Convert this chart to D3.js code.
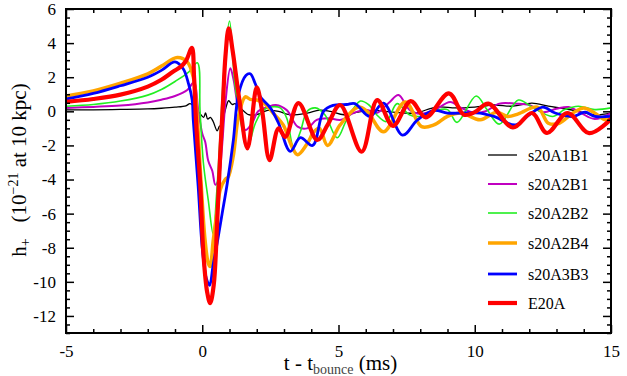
<!DOCTYPE html>
<html>
<head>
<meta charset="utf-8">
<script src="https://cdn.jsdelivr.net/npm/d3@7"></script>
<style>
  body { margin: 0; background: #fff; }
  svg text { font-family: "Liberation Serif", "DejaVu Serif", serif; }
</style>
</head>
<body>
<div id="chart"></div>
<script>
// waveforms, [t - t_bounce (ms), h+ (1e-21 at 10 kpc)]
var s20A1B1 = [[-5,0.08],[-4,0.09],[-3,0.11],[-2,0.14],[-1.5,0.18],[-1,0.24],[-0.6,0.32],[-0.45,0.45],[-0.3,0.3],[-0.1,-0.1],[0.05,-0.35],[0.12,-0.1],[0.2,-0.45],[0.3,-0.35],[0.4,-0.6],[0.55,-1.15],[0.62,-0.9],[0.7,-0.8],[0.85,0.1],[0.97,0.62],[1.1,0.4],[1.2,0.45],[1.4,0.2],[1.7,-0.2],[2.0,-0.2],[2.4,0.05],[2.8,0.0],[3.2,-0.2],[3.85,-0.1],[4.3,0.07],[4.7,0.0],[5.2,-0.2],[5.7,-0.05],[6.3,0.05],[7.0,-0.05],[7.8,-0.1],[8.6,0.25],[9.3,0.2],[10.0,0.25],[10.7,0.37],[11.4,0.3],[12.1,0.48],[12.7,0.3],[13.3,0.15],[13.8,0.0],[14.35,-0.2],[15,-0.1]];
var s20A2B1 = [[-5,0.2],[-4,0.26],[-3,0.34],[-2,0.52],[-1.5,0.68],[-1,0.9],[-0.55,1.25],[-0.3,1.7],[-0.15,0.1],[0.0,-1.3],[0.11,-1.8],[0.22,-2.9],[0.37,-3.5],[0.48,-4.3],[0.6,-4.0],[0.72,-2.2],[0.85,0.5],[1.03,2.52],[1.15,1.85],[1.33,0.07],[1.58,-1.1],[1.83,-0.7],[2.05,0.0],[2.4,0.25],[2.7,0.37],[3.1,0.07],[3.5,-0.9],[3.85,-1.0],[4.2,-0.5],[4.6,-0.4],[5.1,-0.5],[5.55,-0.1],[6.05,0.07],[6.4,-0.1],[6.85,0.5],[7.2,0.95],[7.6,0.1],[8.0,-0.15],[8.5,0.05],[9.1,0.55],[9.5,0.2],[10.0,-0.1],[10.4,0.0],[10.9,0.45],[11.5,0.45],[12.0,0.37],[12.5,-0.05],[13.0,0.15],[13.45,0.25],[13.9,-0.1],[14.4,-0.45],[15,-0.1]];
var s20A2B2 = [[-5,0.3],[-4,0.4],[-3,0.6],[-2,0.95],[-1.5,1.28],[-1,1.75],[-0.5,2.3],[-0.18,2.85],[-0.08,0],[0.04,-3.0],[0.22,-5.2],[0.4,-7.2],[0.52,-5],[0.66,-1.3],[0.8,2.5],[1.0,5.3],[1.2,1.6],[1.5,-1.3],[1.65,-2.15],[1.95,-0.7],[2.2,0.0],[2.5,0.25],[2.86,0.2],[3.1,-0.4],[3.35,-2.1],[3.6,-1.2],[3.85,0.0],[4.15,0.2],[4.5,-0.2],[4.95,-1.55],[5.3,-0.5],[5.8,0.6],[6.1,0.4],[6.4,-0.2],[6.75,-0.6],[7.15,0.45],[7.6,-0.2],[8.0,-0.3],[8.5,0.0],[9.0,0.1],[9.35,-0.65],[10.05,0.9],[10.45,0.1],[10.9,-0.75],[11.6,0.66],[12.1,0.25],[12.85,-0.3],[13.3,0.1],[13.8,0.3],[14.4,0.1],[15,0.2]];
var s20A2B4 = [[-5,0.9],[-4,1.2],[-3,1.65],[-2,2.2],[-1.5,2.65],[-0.92,3.15],[-0.55,2.9],[-0.33,2.0],[-0.2,0],[-0.05,-4],[0.1,-7.5],[0.22,-8.9],[0.29,-9.1],[0.4,-7.6],[0.55,-5.8],[0.66,-4.6],[0.84,-4.0],[0.95,-3.85],[1.14,-2.6],[1.33,-0.3],[1.58,0.85],[1.76,0.7],[2.0,0.66],[2.25,0.5],[2.6,-0.1],[2.97,-0.8],[3.3,-2.1],[3.5,-2.55],[3.85,-1.9],[4.1,-1.2],[4.3,-1.0],[4.6,-2.0],[5.06,-0.8],[5.73,0.25],[6.05,0.0],[6.65,-1.2],[7.45,0.55],[8.05,-0.9],[8.5,-0.8],[9.0,-0.3],[9.5,-0.1],[10.2,-0.5],[10.8,-0.05],[11.2,-0.3],[11.6,-0.15],[12.3,0.25],[12.7,-0.7],[13.1,-0.7],[13.6,-0.1],[14.0,0.2],[14.4,-0.1],[14.8,-0.5],[15,-0.4]];
var s20A3B3 = [[-5,0.72],[-4,1.05],[-3,1.5],[-2,2.0],[-1.5,2.4],[-1.0,2.9],[-0.7,2.5],[-0.5,1.6],[-0.37,0.67],[-0.33,-0.5],[-0.15,-4.4],[0.0,-8.0],[0.15,-9.8],[0.27,-10.2],[0.4,-9.0],[0.55,-7.7],[0.73,-6.0],[0.92,-4.2],[1.14,-1.7],[1.33,1.0],[1.6,2.1],[1.76,2.2],[1.95,1.6],[2.13,0.85],[2.5,0.2],[2.8,-0.7],[3.23,-2.35],[3.6,-1.55],[4.05,-2.0],[4.45,0.0],[4.8,0.35],[5.3,0.4],[5.6,0.45],[6.15,-0.3],[6.65,0.48],[7.35,-1.4],[7.9,-0.5],[8.5,0.05],[9.0,-0.1],[9.7,-0.1],[10.2,-0.1],[10.7,-0.3],[11.5,-0.8],[12.0,-0.2],[12.5,0.25],[12.95,-0.1],[13.6,-0.3],[14.05,-0.05],[14.4,-0.3],[15,-0.3]];
var e20A = [[-5,0.55],[-4,0.72],[-3,0.98],[-2,1.45],[-1.5,1.85],[-1.05,2.35],[-0.8,2.6],[-0.6,2.95],[-0.38,3.72],[-0.3,2.0],[-0.22,-0.8],[-0.07,-4.4],[0.04,-8.3],[0.18,-10.6],[0.29,-11.25],[0.42,-10.2],[0.55,-6.4],[0.66,-2.5],[0.76,0.5],[0.85,3.2],[0.97,4.87],[1.12,3.5],[1.35,0.8],[1.66,-2.17],[2.0,1.41],[2.2,0],[2.47,-2.86],[2.8,-1.0],[3.05,-1.5],[3.53,0.48],[4.22,-1.68],[4.6,-0.8],[5.06,0.37],[5.85,-2.37],[6.42,0.66],[7.0,-0.85],[7.65,0.6],[8.2,-0.35],[9.05,1.05],[9.6,-0.2],[10.0,-0.05],[10.5,0.45],[11.4,-0.95],[12.1,-0.1],[12.65,-1.27],[13.4,-0.1],[14.2,-1.28],[15,-0.45]];

var seriesNames = ["s20A1B1", "s20A2B1", "s20A2B2", "s20A2B4", "s20A3B3", "E20A"];
var seriesData = [s20A1B1, s20A2B1, s20A2B2, s20A2B4, s20A3B3, e20A];
var seriesColors = ["#000000", "#c000c0", "#22ee22", "#ffa500", "#0000ff", "#ff0000"];
var seriesWidths = [1.3, 2, 1.6, 3.5, 2.8, 4.2];

var xMajor = [-5, 0, 5, 10, 15];
var yMajor = [-12, -10, -8, -6, -4, -2, 0, 2, 4, 6];

(function() {
    var margin = { top: 9, left: 66, right: 16, bottom: 43 },
        width = 627 - margin.left - margin.right,
        height = 376 - margin.top - margin.bottom;

    var svg = d3.select("#chart")
        .append("svg")
        .attr("width", 627)
        .attr("height", 376)
        .append("g")
        .attr("transform", "translate(" + margin.left + "," + margin.top + ")");

    var x = d3.scaleLinear().domain([-5, 15]).range([0, width]);
    var y = d3.scaleLinear().domain([-13, 6]).range([height, 0]);

    var xMinor = d3.range(-5, 15.01, 1).filter(function(d) { return xMajor.indexOf(d) < 0; });
    var yMinor = d3.range(-13, 6.01, 0.5).filter(function(d) { return yMajor.indexOf(d) < 0; });

    svg.append("clipPath").attr("id", "clip")
        .append("rect").attr("width", width).attr("height", height);

    var line = d3.line()
        .x(function(d) { return x(d[0]); })
        .y(function(d) { return y(d[1]); })
        .curve(d3.curveCatmullRom.alpha(0.5));

    svg.append("g")
        .attr("clip-path", "url(#clip)")
        .selectAll(".wave")
        .data(seriesData)
        .enter().append("path")
        .attr("class", "wave")
        .attr("d", line)
        .attr("fill", "none")
        .attr("stroke", function(d, i) { return seriesColors[i]; })
        .attr("stroke-width", function(d, i) { return seriesWidths[i]; })
        .attr("stroke-linejoin", "round");

    // ticks point inward on all four sides
    function addAxis(axis, values, size, transform, labels) {
        var g = svg.append("g")
            .attr("transform", transform)
            .call(axis.tickValues(values).tickSize(-size).tickPadding(labels ? 12 : 0)
                .tickFormat(labels ? function(d) { return d < 0 ? "-" + Math.abs(d) : d; } : ""));
        g.select(".domain").remove();
        g.attr("font-family", null);
        g.selectAll("line").attr("stroke", "#000").attr("stroke-width", 1.5);
        g.selectAll("text").attr("font-size", 17).attr("fill", "#000");
        return g;
    }

    addAxis(d3.axisBottom(x), xMajor, 8, "translate(0," + height + ")", true);
    addAxis(d3.axisBottom(x), xMinor, 4, "translate(0," + height + ")", false);
    addAxis(d3.axisTop(x), xMajor, 8, "translate(0,0)", false);
    addAxis(d3.axisTop(x), xMinor, 4, "translate(0,0)", false);
    var yAxisG = addAxis(d3.axisLeft(y), yMajor, 8, "translate(0,0)", true);
    yAxisG.selectAll("text").attr("x", -10);
    addAxis(d3.axisLeft(y), yMinor, 4, "translate(0,0)", false);
    addAxis(d3.axisRight(y), yMajor, 8, "translate(" + width + ",0)", false);
    addAxis(d3.axisRight(y), yMinor, 4, "translate(" + width + ",0)", false);

    svg.append("rect")
        .attr("width", width)
        .attr("height", height)
        .attr("fill", "none")
        .attr("stroke", "#000")
        .attr("stroke-width", 2);

    // x axis title
    var xt = svg.append("text")
        .attr("x", width / 2 + 2)
        .attr("y", height + 37)
        .attr("text-anchor", "middle")
        .attr("font-size", 21)
        .attr("fill", "#000");
    xt.append("tspan").text("t - t");
    xt.append("tspan").attr("dy", 4).attr("font-size", 14).attr("fill", "#444").text("bounce");
    xt.append("tspan").attr("dy", -4).text(" (ms)");

    // y axis title
    var yt = svg.append("text")
        .attr("transform", "translate(" + (26 - margin.left) + "," + (170 - margin.top) + ") rotate(-90)")
        .attr("text-anchor", "middle")
        .attr("font-size", 21)
        .attr("fill", "#000");
    yt.append("tspan").text("h");
    yt.append("tspan").attr("dy", 4).attr("font-size", 14).text("+");
    yt.append("tspan").attr("dy", -4).text("\u00a0\u00a0\u00a0(10");
    yt.append("tspan").attr("dy", -8).attr("font-size", 14).text("\u221221");
    yt.append("tspan").attr("dy", 8).text(" at 10 kpc)");

    // legend
    var legend = svg.selectAll(".legend")
        .data(seriesNames)
        .enter().append("g")
        .attr("class", "legend")
        .attr("transform", function(d, i) {
            var rows = [155, 184, 213, 243, 274, 303];
            return "translate(" + (488 - margin.left) + "," + (rows[i] - margin.top) + ")";
        });

    legend.append("line")
        .attr("x1", 0).attr("x2", 29)
        .attr("stroke", function(d, i) { return seriesColors[i]; })
        .attr("stroke-width", function(d, i) { return seriesWidths[i]; });

    legend.append("text")
        .attr("x", 40)
        .attr("dy", "0.35em")
        .attr("font-size", 16)
        .attr("fill", "#000")
        .text(function(d) { return d; });
})();
</script>
</body>
</html>
